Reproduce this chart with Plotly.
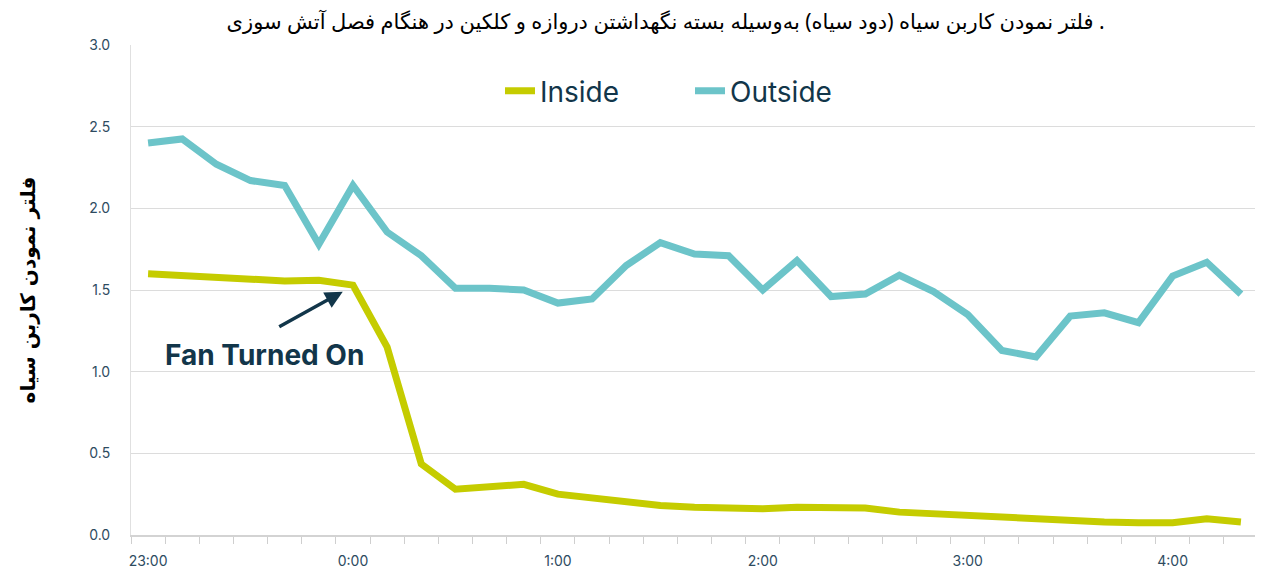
import datetime as dt
import plotly.graph_objects as go

times = ["23:00", "23:10", "23:20", "23:30", "23:40", "23:50",
         "0:00", "0:10", "0:20", "0:30", "0:40", "0:50",
         "1:00", "1:10", "1:20", "1:30", "1:40", "1:50",
         "2:00", "2:10", "2:20", "2:30", "2:40", "2:50",
         "3:00", "3:10", "3:20", "3:30", "3:40", "3:50",
         "4:00", "4:10", "4:20"]

inside = [1.60, 1.59, 1.58, 1.57, 1.555, 1.56,
          1.53, 1.15, 0.435, 0.28, 0.29, 0.31,
          0.25, 0.225, 0.195, 0.18, 0.17, 0.16,
          0.16, 0.17, 0.17, 0.165, 0.14, 0.13,
          0.11, 0.10, 0.09, 0.085, 0.08, 0.075,
          0.075, 0.10, 0.08]

outside = [2.40, 2.425, 2.27, 2.17, 2.14, 1.78,
           2.14, 1.855, 1.71, 1.51, 1.51, 1.50,
           1.42, 1.445, 1.65, 1.79, 1.72, 1.71,
           1.50, 1.68, 1.46, 1.475, 1.59, 1.49,
           1.35, 1.13, 1.09, 1.34, 1.36, 1.30,
           1.585, 1.67, 1.475]

title_text = "فلتر نمودن کاربن سیاه (دود سیاه) بەوسیله بسته نگهداشتن دروازه و کلکین در هنگام فصل آتش سوزی ."
y_title = "فلتر نمودن کاربن سیاه"
annot_text = "Fan Turned On"

base = dt.datetime(2023, 1, 1)


def to_dt(s):
    h, m = map(int, s.split(":"))
    d = base if h >= 12 else base + dt.timedelta(days=1)
    return d.replace(hour=h, minute=m)


x = [to_dt(t) for t in times]
step = dt.timedelta(minutes=5)

NAVY = "#12364A"
TICK = "#2E4B5F"

fig = go.Figure()
fig.add_trace(go.Scatter(x=x, y=inside, name="Inside", mode="lines",
                         line=dict(color="#C5CC00", width=7)))
fig.add_trace(go.Scatter(x=x, y=outside, name="Outside", mode="lines",
                         line=dict(color="#6CC4C9", width=7)))

# page body has an 8px default margin, so the figure is 8px smaller
fig.update_layout(
    width=1255, height=561,
    margin=dict(l=123, r=5, t=37, b=34, autoexpand=False),
    paper_bgcolor="white", plot_bgcolor="white",
    showlegend=True,
    legend=dict(orientation="h", x=0.496, xanchor="center", y=0.906, yanchor="middle",
                font=dict(family="Inter, sans-serif", size=28, color=NAVY),
                entrywidth=145, bgcolor="rgba(0,0,0,0)"),
    title=dict(text=title_text, x=0.524, xanchor="center", y=0.975, yanchor="middle",
               font=dict(family="Noto Sans, DejaVu Sans, sans-serif", size=21, color="black")),
)

fig.update_xaxes(
    type="date", automargin=False,
    range=[x[0] - step, x[-1] + step],
    tickformat="%-H:%M",
    dtick=3600000, tick0=x[0],
    ticks="", showgrid=False,
    showline=True, linecolor="#D3D3D3", linewidth=2,
    tickfont=dict(family="Inter, sans-serif", size=14, color=TICK),
    ticklabelstandoff=12,
    minor=dict(dtick=600000, tick0=x[0] - step, ticks="outside", ticklen=7,
               tickcolor="#CFCFCF", tickwidth=1, showgrid=False),
    zeroline=False,
)

fig.update_yaxes(
    automargin=False,
    range=[0, 3], dtick=0.5, tickformat=".1f",
    showgrid=True, gridcolor="#DCDCDC", gridwidth=1,
    showline=True, linecolor="#E0E0E0", linewidth=1,
    zeroline=False, ticks="",
    tickfont=dict(family="Inter, sans-serif", size=14, color=TICK),
    ticklabelstandoff=17,
    title=dict(text="<b>" + y_title + "</b>", standoff=48,
               font=dict(family="DejaVu Sans, sans-serif", size=20, color="black")),
)

# white title backing that hides the top gridline behind the title
fig.add_shape(type="rect", xref="paper", yref="paper", x0=0.057, x1=0.892,
              y0=0.99, y1=1.08, fillcolor="white", line=dict(width=0), layer="above")

fig.add_annotation(x=x[6] - dt.timedelta(minutes=3), y=1.49, xref="x", yref="y",
                   text="", showarrow=True, ax=-65, ay=36,
                   arrowhead=2, arrowsize=1, arrowwidth=3.5, arrowcolor=NAVY)
fig.add_annotation(x=x[3] + dt.timedelta(minutes=4), y=1.1, xref="x", yref="y",
                   text="<b>" + annot_text + "</b>", showarrow=False,
                   font=dict(family="Inter, sans-serif", size=28, color=NAVY))

fig.write_html("out.html")
